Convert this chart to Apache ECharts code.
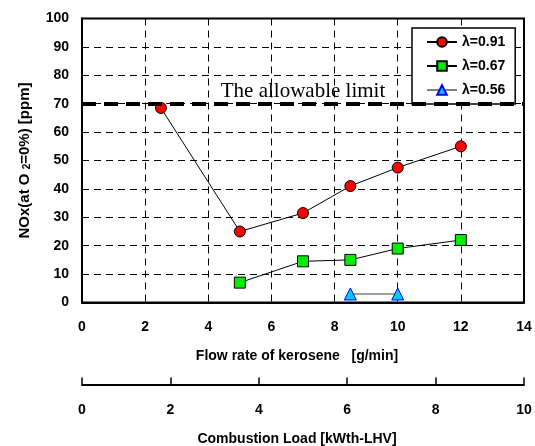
<!DOCTYPE html>
<html>
<head>
<meta charset="utf-8">
<script src="https://cdn.jsdelivr.net/npm/echarts@6/dist/echarts.min.js"></script>
<style>
  html, body { margin: 0; padding: 0; background: #fff; }
  #chart { width: 535px; height: 446px; }
</style>
</head>
<body>
<div id="chart"></div>
<script>
// data
var flowRed = [2.5, 5, 7, 8.5, 10, 12];
var noxRed = [68.5, 25, 31.5, 41, 47.5, 55];
var flowGreen = [5, 7, 8.5, 10, 12];
var noxGreen = [7, 14.5, 15, 19, 22];
var flowBlue = [8.5, 10];
var noxBlue = [3, 3];
var allowableLimit = 70;
var seriesNames = ['λ=0.91', 'λ=0.67', 'λ=0.56'];

function pairs(xs, ys) {
  return xs.map(function (x, i) { return [x, ys[i]]; });
}

var font = 'Liberation Sans, Arial, sans-serif';
var tickStyle = { fontFamily: font, fontWeight: 'bold', fontSize: 14, color: '#000' };

var chart = echarts.init(document.getElementById('chart'));
chart.setOption({
  backgroundColor: '#fff',
  animation: false,
  grid: {
    left: 82, right: 11, top: 18.5, bottom: 143.5,
    outerBoundsMode: 'none', containLabel: false,
    show: true, borderColor: '#000', borderWidth: 2
  },
  legend: {
    left: 412, top: 28,
    orient: 'vertical',
    data: seriesNames,
    backgroundColor: '#fff',
    borderColor: '#000',
    borderWidth: 1.5,
    padding: [7, 10, 7, 14],
    itemWidth: 30, itemHeight: 12, itemGap: 10,
    textStyle: { fontFamily: font, fontWeight: 'bold', fontSize: 14, color: '#000' }
  },
  xAxis: [{
    type: 'value', min: 0, max: 14, interval: 2,
    name: 'Flow rate of kerosene   [g/min]',
    nameLocation: 'middle', nameGap: 47,
    nameTextStyle: { fontFamily: font, fontWeight: 'bold', fontSize: 14, color: '#000', padding: [0, 12, 0, 0] },
    axisLine: { lineStyle: { color: '#000', width: 2 } },
    axisTick: { show: false },
    axisLabel: Object.assign({ margin: 18 }, tickStyle),
    splitLine: { show: true, lineStyle: { color: '#000', width: 1, type: [7, 5] } }
  }, {
    type: 'value', min: 0, max: 10, interval: 2,
    position: 'bottom', offset: 82,
    name: 'Combustion Load [kWth-LHV]',
    nameLocation: 'middle', nameGap: 48,
    nameTextStyle: { fontFamily: font, fontWeight: 'bold', fontSize: 14, color: '#000', padding: [0, 12, 0, 0] },
    axisLine: { show: true, onZero: false, lineStyle: { color: '#000', width: 2 } },
    axisTick: { show: true, inside: true, length: 7, lineStyle: { color: '#000', width: 1.5 } },
    axisLabel: Object.assign({ margin: 19 }, tickStyle),
    splitLine: { show: false }
  }],
  yAxis: {
    type: 'value', min: 0, max: 100, interval: 10,
    name: '{n|NOx(at O }{s|2}{n|=0%) [ppm]}',
    nameLocation: 'middle', nameGap: 50, nameRotate: 90,
    nameTextStyle: {
      rich: {
        n: { fontFamily: font, fontWeight: 'bold', fontSize: 15, color: '#000' },
        s: { fontFamily: font, fontWeight: 'bold', fontSize: 10, color: '#000', verticalAlign: 'bottom', padding: [5, 0, 0, 0] }
      }
    },
    axisLine: { lineStyle: { color: '#000', width: 2 } },
    axisTick: { show: false },
    axisLabel: Object.assign({ margin: 13 }, tickStyle),
    splitLine: { show: true, lineStyle: { color: '#000', width: 1, type: [7, 5] } }
  },
  series: [{
    name: seriesNames[0], type: 'line',
    data: pairs(flowRed, noxRed),
    symbol: 'circle', symbolSize: 11,
    lineStyle: { color: '#000', width: 1 },
    itemStyle: { color: '#ff0000', borderColor: '#000', borderWidth: 1 },
    markLine: {
      silent: true, symbol: 'none',
      lineStyle: { color: '#000', width: 4, type: [14, 8] },
      label: {
        show: true, position: 'insideMiddleTop', distance: 2,
        formatter: 'The allowable limit',
        fontFamily: 'Liberation Serif, Times New Roman, serif',
        fontSize: 21, color: '#000'
      },
      data: [{ yAxis: allowableLimit }]
    },
    z: 3
  }, {
    name: seriesNames[1], type: 'line',
    data: pairs(flowGreen, noxGreen),
    symbol: 'rect', symbolSize: 11,
    lineStyle: { color: '#000', width: 1 },
    itemStyle: { color: '#00ee00', borderColor: '#000', borderWidth: 1 },
    z: 3
  }, {
    name: seriesNames[2], type: 'line',
    data: pairs(flowBlue, noxBlue),
    symbol: 'triangle', symbolSize: 12,
    lineStyle: { color: '#808080', width: 1.5 },
    itemStyle: { color: '#00ccff', borderColor: '#0000ff', borderWidth: 1 },
    z: 3
  }]
});
</script>
</body>
</html>
